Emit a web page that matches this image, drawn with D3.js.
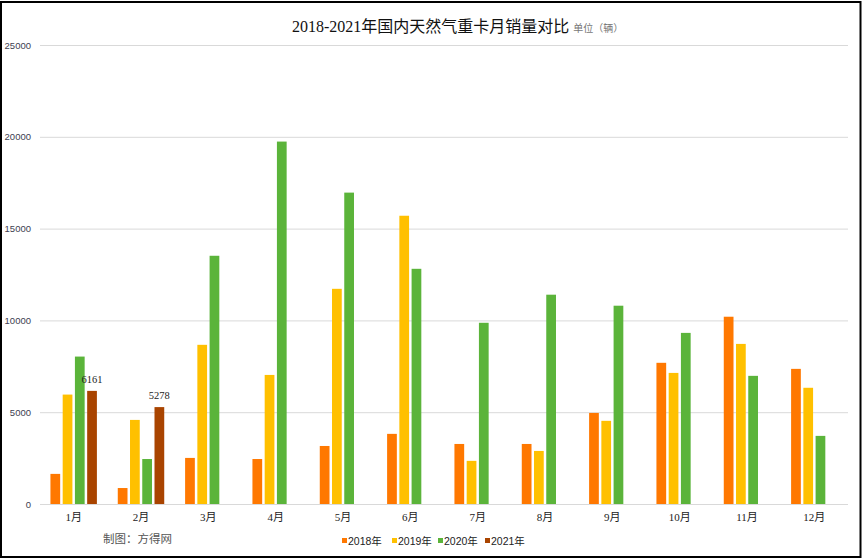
<!DOCTYPE html>
<html><head><meta charset="utf-8">
<script src="https://cdn.jsdelivr.net/npm/d3@7"></script>
<style>
html,body{margin:0;padding:0;background:#fff;}
svg{display:block;}
</style></head>
<body>
<svg id="chart" width="862" height="559"></svg>
<script>
const months = ["1月","2月","3月","4月","5月","6月","7月","8月","9月","10月","11月","12月"];
const seriesNames = ["2018年","2019年","2020年","2021年"];
const s2018 = [1640, 870, 2510, 2450, 3160, 3820, 3270, 3270, 4960, 7690, 10200, 7360];
const s2019 = [5960, 4580, 8670, 7030, 11720, 15700, 2350, 2890, 4530, 7140, 8720, 6330];
const s2020 = [8030, 2450, 13520, 19740, 16960, 12810, 9870, 11400, 10800, 9320, 6980, 3710];
const s2021 = [6161, 5278, null, null, null, null, null, null, null, null, null, null];
const yTicks = [0, 5000, 10000, 15000, 20000, 25000];
const colors = ["#FF7800", "#FFC000", "#5BB43A", "#A94400"];
const title = "2018-2021年国内天然气重卡月销量对比";
const unitText = "单位（辆）";
const sourceText = "制图：方得网";

const allSeries = [s2018, s2019, s2020, s2021];
const svg = d3.select("#chart");
const serif = "'Liberation Serif','DejaVu Serif','Noto Sans CJK SC',serif";
const sans = "'Liberation Sans','DejaVu Sans','Noto Sans CJK SC',sans-serif";

// frame
svg.append("rect").attr("x",1).attr("y",2).attr("width",859.5).attr("height",555)
  .attr("fill","#fff").attr("stroke","#000").attr("stroke-width",2);

const y = d3.scaleLinear().domain([0,25000]).range([504,45]);
const x0 = d3.scaleBand().domain(months).range([40,848]).paddingInner(0.31).paddingOuter(0.155);
const x1 = d3.scaleBand().domain(seriesNames).range([0, x0.bandwidth()]).paddingInner(0.205);

// gridlines
const yAxis = d3.axisLeft(y).tickValues(yTicks).tickSize(-808).tickPadding(9).tickFormat(d3.format("d"));
const gy = svg.append("g").attr("transform","translate(40,0)").call(yAxis);
gy.select(".domain").remove();
gy.selectAll(".tick line").attr("stroke","#d9d9d9").attr("stroke-width",1);
gy.selectAll(".tick text").attr("fill","#404050").style("font-family",sans).style("font-size","9.5px");

// x axis labels
const xAxis = d3.axisBottom(x0).tickSize(0).tickPadding(9);
const gx = svg.append("g").attr("transform","translate(0,504)").call(xAxis);
gx.select(".domain").remove();
gx.selectAll(".tick text").attr("fill","#222").style("font-family",serif).style("font-size","11px");

// bars
const groups = svg.append("g").selectAll("g").data(months).join("g")
  .attr("transform", m => `translate(${x0(m)},0)`);
groups.selectAll("rect")
  .data((m,i) => seriesNames.map((s,j) => ({s, v: allSeries[j][i], c: colors[j]})).filter(d => d.v != null))
  .join("rect")
  .attr("x", d => x1(d.s))
  .attr("width", x1.bandwidth())
  .attr("y", d => y(d.v))
  .attr("height", d => y(0) - y(d.v))
  .attr("fill", d => d.c);

// data labels for 2021
months.forEach((m,i) => {
  const v = s2021[i];
  if (v == null) return;
  svg.append("text")
    .attr("x", x0(m) + x1("2021年") + x1.bandwidth()/2)
    .attr("y", y(v) - 8)
    .attr("text-anchor","middle")
    .attr("fill","#222")
    .style("font-family",serif).style("font-size","10.5px")
    .text(v);
});

// title
const t = svg.append("text").attr("x",292).attr("y",32)
  .style("font-family",serif).style("font-size","16px").attr("fill","#111");
t.append("tspan").text(title);
t.append("tspan").attr("dx",4).attr("fill","#777").style("font-size","10px").style("font-family",sans).text(unitText);

// source
svg.append("text").attr("x",103).attr("y",543).attr("fill","#555")
  .style("font-family",serif).style("font-size","11.5px").text(sourceText);

// legend
const legX = [342, 392, 438, 485];
const leg = svg.append("g");
seriesNames.forEach((s,j) => {
  leg.append("rect").attr("x",legX[j]).attr("y",538).attr("width",5).attr("height",5).attr("fill",colors[j]);
  leg.append("text").attr("x",legX[j]+6).attr("y",545).attr("fill","#222")
    .style("font-family",sans).style("font-size","10.5px").text(s);
});
</script>
</body></html>
